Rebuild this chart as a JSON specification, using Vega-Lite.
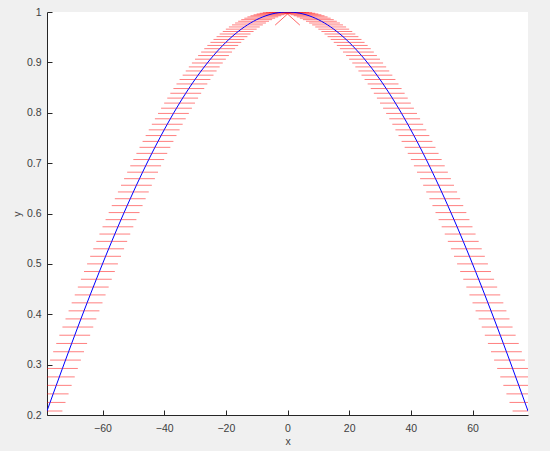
{
  "$schema": "https://vega.github.io/schema/vega-lite/v6.json",
  "width": 481,
  "height": 403,
  "autosize": {"type": "none"},
  "padding": {"left": 47, "top": 12, "right": 22, "bottom": 36},
  "background": "#f0f0f0",
  "config": {
    "view": {"fill": "white", "stroke": null},
    "font": "Liberation Sans",
    "axis": {
      "grid": false,
      "domainColor": "#262626",
      "domainWidth": 1,
      "tickColor": "#262626",
      "tickSize": -5,
      "labelColor": "#404040",
      "labelFontSize": 10.5,
      "labelFont": "Liberation Sans",
      "titleColor": "#404040",
      "titleFontSize": 10.5,
      "titleFontWeight": "normal",
      "titleFont": "Liberation Sans"
    }
  },
  "datasets": {
    "curve": [
      {"x": -78, "y": 0.20791, "lo": -83, "hi": -73},
      {"x": -77, "y": 0.22495, "lo": -82, "hi": -72},
      {"x": -76, "y": 0.24192, "lo": -81, "hi": -71},
      {"x": -75, "y": 0.25882, "lo": -80, "hi": -70},
      {"x": -74, "y": 0.27564, "lo": -79, "hi": -69},
      {"x": -73, "y": 0.29237, "lo": -78, "hi": -68},
      {"x": -72, "y": 0.30902, "lo": -77, "hi": -67},
      {"x": -71, "y": 0.32557, "lo": -76, "hi": -66},
      {"x": -70, "y": 0.34202, "lo": -75, "hi": -65},
      {"x": -69, "y": 0.35837, "lo": -74, "hi": -64},
      {"x": -68, "y": 0.37461, "lo": -73, "hi": -63},
      {"x": -67, "y": 0.39073, "lo": -72, "hi": -62},
      {"x": -66, "y": 0.40674, "lo": -71, "hi": -61},
      {"x": -65, "y": 0.42262, "lo": -70, "hi": -60},
      {"x": -64, "y": 0.43837, "lo": -69, "hi": -59},
      {"x": -63, "y": 0.45399, "lo": -68, "hi": -58},
      {"x": -62, "y": 0.46947, "lo": -67, "hi": -57},
      {"x": -61, "y": 0.48481, "lo": -66, "hi": -56},
      {"x": -60, "y": 0.5, "lo": -65, "hi": -55},
      {"x": -59, "y": 0.51504, "lo": -64, "hi": -54},
      {"x": -58, "y": 0.52992, "lo": -63, "hi": -53},
      {"x": -57, "y": 0.54464, "lo": -62, "hi": -52},
      {"x": -56, "y": 0.55919, "lo": -61, "hi": -51},
      {"x": -55, "y": 0.57358, "lo": -60, "hi": -50},
      {"x": -54, "y": 0.58779, "lo": -59, "hi": -49},
      {"x": -53, "y": 0.60182, "lo": -58, "hi": -48},
      {"x": -52, "y": 0.61566, "lo": -57, "hi": -47},
      {"x": -51, "y": 0.62932, "lo": -56, "hi": -46},
      {"x": -50, "y": 0.64279, "lo": -55, "hi": -45},
      {"x": -49, "y": 0.65606, "lo": -54, "hi": -44},
      {"x": -48, "y": 0.66913, "lo": -53, "hi": -43},
      {"x": -47, "y": 0.682, "lo": -52, "hi": -42},
      {"x": -46, "y": 0.69466, "lo": -51, "hi": -41},
      {"x": -45, "y": 0.70711, "lo": -50, "hi": -40},
      {"x": -44, "y": 0.71934, "lo": -49, "hi": -39},
      {"x": -43, "y": 0.73135, "lo": -48, "hi": -38},
      {"x": -42, "y": 0.74314, "lo": -47, "hi": -37},
      {"x": -41, "y": 0.75471, "lo": -46, "hi": -36},
      {"x": -40, "y": 0.76604, "lo": -45, "hi": -35},
      {"x": -39, "y": 0.77715, "lo": -44, "hi": -34},
      {"x": -38, "y": 0.78801, "lo": -43, "hi": -33},
      {"x": -37, "y": 0.79864, "lo": -42, "hi": -32},
      {"x": -36, "y": 0.80902, "lo": -41, "hi": -31},
      {"x": -35, "y": 0.81915, "lo": -40, "hi": -30},
      {"x": -34, "y": 0.82904, "lo": -39, "hi": -29},
      {"x": -33, "y": 0.83867, "lo": -38, "hi": -28},
      {"x": -32, "y": 0.84805, "lo": -37, "hi": -27},
      {"x": -31, "y": 0.85717, "lo": -36, "hi": -26},
      {"x": -30, "y": 0.86603, "lo": -35, "hi": -25},
      {"x": -29, "y": 0.87462, "lo": -34, "hi": -24},
      {"x": -28, "y": 0.88295, "lo": -33, "hi": -23},
      {"x": -27, "y": 0.89101, "lo": -32, "hi": -22},
      {"x": -26, "y": 0.89879, "lo": -31, "hi": -21},
      {"x": -25, "y": 0.90631, "lo": -30, "hi": -20},
      {"x": -24, "y": 0.91355, "lo": -29, "hi": -19},
      {"x": -23, "y": 0.9205, "lo": -28, "hi": -18},
      {"x": -22, "y": 0.92718, "lo": -27, "hi": -17},
      {"x": -21, "y": 0.93358, "lo": -26, "hi": -16},
      {"x": -20, "y": 0.93969, "lo": -25, "hi": -15},
      {"x": -19, "y": 0.94552, "lo": -24, "hi": -14},
      {"x": -18, "y": 0.95106, "lo": -23, "hi": -13},
      {"x": -17, "y": 0.9563, "lo": -22, "hi": -12},
      {"x": -16, "y": 0.96126, "lo": -21, "hi": -11},
      {"x": -15, "y": 0.96593, "lo": -20, "hi": -10},
      {"x": -14, "y": 0.9703, "lo": -19, "hi": -9},
      {"x": -13, "y": 0.97437, "lo": -18, "hi": -8},
      {"x": -12, "y": 0.97815, "lo": -17, "hi": -7},
      {"x": -11, "y": 0.98163, "lo": -16, "hi": -6},
      {"x": -10, "y": 0.98481, "lo": -15, "hi": -5},
      {"x": -9, "y": 0.98769, "lo": -14, "hi": -4},
      {"x": -8, "y": 0.99027, "lo": -13, "hi": -3},
      {"x": -7, "y": 0.99255, "lo": -12, "hi": -2},
      {"x": -6, "y": 0.99452, "lo": -11, "hi": -1},
      {"x": -5, "y": 0.99619, "lo": -10, "hi": 0},
      {"x": -4, "y": 0.99756, "lo": -9, "hi": 1},
      {"x": -3, "y": 0.99863, "lo": -8, "hi": 2},
      {"x": -2, "y": 0.99939, "lo": -7, "hi": 3},
      {"x": -1, "y": 0.99985, "lo": -6, "hi": 4},
      {"x": 0, "y": 1, "lo": -5, "hi": 5},
      {"x": 1, "y": 0.99985, "lo": -4, "hi": 6},
      {"x": 2, "y": 0.99939, "lo": -3, "hi": 7},
      {"x": 3, "y": 0.99863, "lo": -2, "hi": 8},
      {"x": 4, "y": 0.99756, "lo": -1, "hi": 9},
      {"x": 5, "y": 0.99619, "lo": 0, "hi": 10},
      {"x": 6, "y": 0.99452, "lo": 1, "hi": 11},
      {"x": 7, "y": 0.99255, "lo": 2, "hi": 12},
      {"x": 8, "y": 0.99027, "lo": 3, "hi": 13},
      {"x": 9, "y": 0.98769, "lo": 4, "hi": 14},
      {"x": 10, "y": 0.98481, "lo": 5, "hi": 15},
      {"x": 11, "y": 0.98163, "lo": 6, "hi": 16},
      {"x": 12, "y": 0.97815, "lo": 7, "hi": 17},
      {"x": 13, "y": 0.97437, "lo": 8, "hi": 18},
      {"x": 14, "y": 0.9703, "lo": 9, "hi": 19},
      {"x": 15, "y": 0.96593, "lo": 10, "hi": 20},
      {"x": 16, "y": 0.96126, "lo": 11, "hi": 21},
      {"x": 17, "y": 0.9563, "lo": 12, "hi": 22},
      {"x": 18, "y": 0.95106, "lo": 13, "hi": 23},
      {"x": 19, "y": 0.94552, "lo": 14, "hi": 24},
      {"x": 20, "y": 0.93969, "lo": 15, "hi": 25},
      {"x": 21, "y": 0.93358, "lo": 16, "hi": 26},
      {"x": 22, "y": 0.92718, "lo": 17, "hi": 27},
      {"x": 23, "y": 0.9205, "lo": 18, "hi": 28},
      {"x": 24, "y": 0.91355, "lo": 19, "hi": 29},
      {"x": 25, "y": 0.90631, "lo": 20, "hi": 30},
      {"x": 26, "y": 0.89879, "lo": 21, "hi": 31},
      {"x": 27, "y": 0.89101, "lo": 22, "hi": 32},
      {"x": 28, "y": 0.88295, "lo": 23, "hi": 33},
      {"x": 29, "y": 0.87462, "lo": 24, "hi": 34},
      {"x": 30, "y": 0.86603, "lo": 25, "hi": 35},
      {"x": 31, "y": 0.85717, "lo": 26, "hi": 36},
      {"x": 32, "y": 0.84805, "lo": 27, "hi": 37},
      {"x": 33, "y": 0.83867, "lo": 28, "hi": 38},
      {"x": 34, "y": 0.82904, "lo": 29, "hi": 39},
      {"x": 35, "y": 0.81915, "lo": 30, "hi": 40},
      {"x": 36, "y": 0.80902, "lo": 31, "hi": 41},
      {"x": 37, "y": 0.79864, "lo": 32, "hi": 42},
      {"x": 38, "y": 0.78801, "lo": 33, "hi": 43},
      {"x": 39, "y": 0.77715, "lo": 34, "hi": 44},
      {"x": 40, "y": 0.76604, "lo": 35, "hi": 45},
      {"x": 41, "y": 0.75471, "lo": 36, "hi": 46},
      {"x": 42, "y": 0.74314, "lo": 37, "hi": 47},
      {"x": 43, "y": 0.73135, "lo": 38, "hi": 48},
      {"x": 44, "y": 0.71934, "lo": 39, "hi": 49},
      {"x": 45, "y": 0.70711, "lo": 40, "hi": 50},
      {"x": 46, "y": 0.69466, "lo": 41, "hi": 51},
      {"x": 47, "y": 0.682, "lo": 42, "hi": 52},
      {"x": 48, "y": 0.66913, "lo": 43, "hi": 53},
      {"x": 49, "y": 0.65606, "lo": 44, "hi": 54},
      {"x": 50, "y": 0.64279, "lo": 45, "hi": 55},
      {"x": 51, "y": 0.62932, "lo": 46, "hi": 56},
      {"x": 52, "y": 0.61566, "lo": 47, "hi": 57},
      {"x": 53, "y": 0.60182, "lo": 48, "hi": 58},
      {"x": 54, "y": 0.58779, "lo": 49, "hi": 59},
      {"x": 55, "y": 0.57358, "lo": 50, "hi": 60},
      {"x": 56, "y": 0.55919, "lo": 51, "hi": 61},
      {"x": 57, "y": 0.54464, "lo": 52, "hi": 62},
      {"x": 58, "y": 0.52992, "lo": 53, "hi": 63},
      {"x": 59, "y": 0.51504, "lo": 54, "hi": 64},
      {"x": 60, "y": 0.5, "lo": 55, "hi": 65},
      {"x": 61, "y": 0.48481, "lo": 56, "hi": 66},
      {"x": 62, "y": 0.46947, "lo": 57, "hi": 67},
      {"x": 63, "y": 0.45399, "lo": 58, "hi": 68},
      {"x": 64, "y": 0.43837, "lo": 59, "hi": 69},
      {"x": 65, "y": 0.42262, "lo": 60, "hi": 70},
      {"x": 66, "y": 0.40674, "lo": 61, "hi": 71},
      {"x": 67, "y": 0.39073, "lo": 62, "hi": 72},
      {"x": 68, "y": 0.37461, "lo": 63, "hi": 73},
      {"x": 69, "y": 0.35837, "lo": 64, "hi": 74},
      {"x": 70, "y": 0.34202, "lo": 65, "hi": 75},
      {"x": 71, "y": 0.32557, "lo": 66, "hi": 76},
      {"x": 72, "y": 0.30902, "lo": 67, "hi": 77},
      {"x": 73, "y": 0.29237, "lo": 68, "hi": 78},
      {"x": 74, "y": 0.27564, "lo": 69, "hi": 79},
      {"x": 75, "y": 0.25882, "lo": 70, "hi": 80},
      {"x": 76, "y": 0.24192, "lo": 71, "hi": 81},
      {"x": 77, "y": 0.22495, "lo": 72, "hi": 82},
      {"x": 78, "y": 0.20791, "lo": 73, "hi": 83}
    ],
    "star": [
      {"x": 0, "y": 0.996, "x2": -4, "y2": 0.974},
      {"x": 0, "y": 0.996, "x2": 4, "y2": 0.974}
    ]
  },
  "layer": [
    {
      "data": {"name": "curve"},
      "mark": {"type": "rule", "color": "#ff0000", "opacity": 0.5, "strokeWidth": 1, "clip": true},
      "encoding": {
        "x": {"field": "lo", "type": "quantitative", "scale": {"domain": [-78, 78], "nice": false, "zero": false},
          "axis": {"title": "x", "values": [-60, -40, -20, 0, 20, 40, 60], "labelPadding": 13, "titlePadding": 3, "labelFlush": false}},
        "x2": {"field": "hi"},
        "y": {"field": "y", "type": "quantitative", "scale": {"domain": [0.2, 1], "nice": false, "zero": false},
          "axis": {"title": "y", "format": ".1~f", "values": [0.2, 0.3, 0.4, 0.5, 0.6, 0.7, 0.8, 0.9, 1], "labelPadding": 11, "titlePadding": 4, "labelFlush": false}}
      }
    },
    {
      "data": {"name": "star"},
      "mark": {"type": "rule", "color": "#ff0000", "opacity": 0.6, "strokeWidth": 1, "clip": true},
      "encoding": {
        "x": {"field": "x", "type": "quantitative"},
        "x2": {"field": "x2"},
        "y": {"field": "y", "type": "quantitative"},
        "y2": {"field": "y2"}
      }
    },
    {
      "data": {"name": "curve"},
      "mark": {"type": "line", "color": "#0000ff", "strokeWidth": 1, "clip": true},
      "encoding": {
        "x": {"field": "x", "type": "quantitative"},
        "y": {"field": "y", "type": "quantitative"}
      }
    }
  ]
}
